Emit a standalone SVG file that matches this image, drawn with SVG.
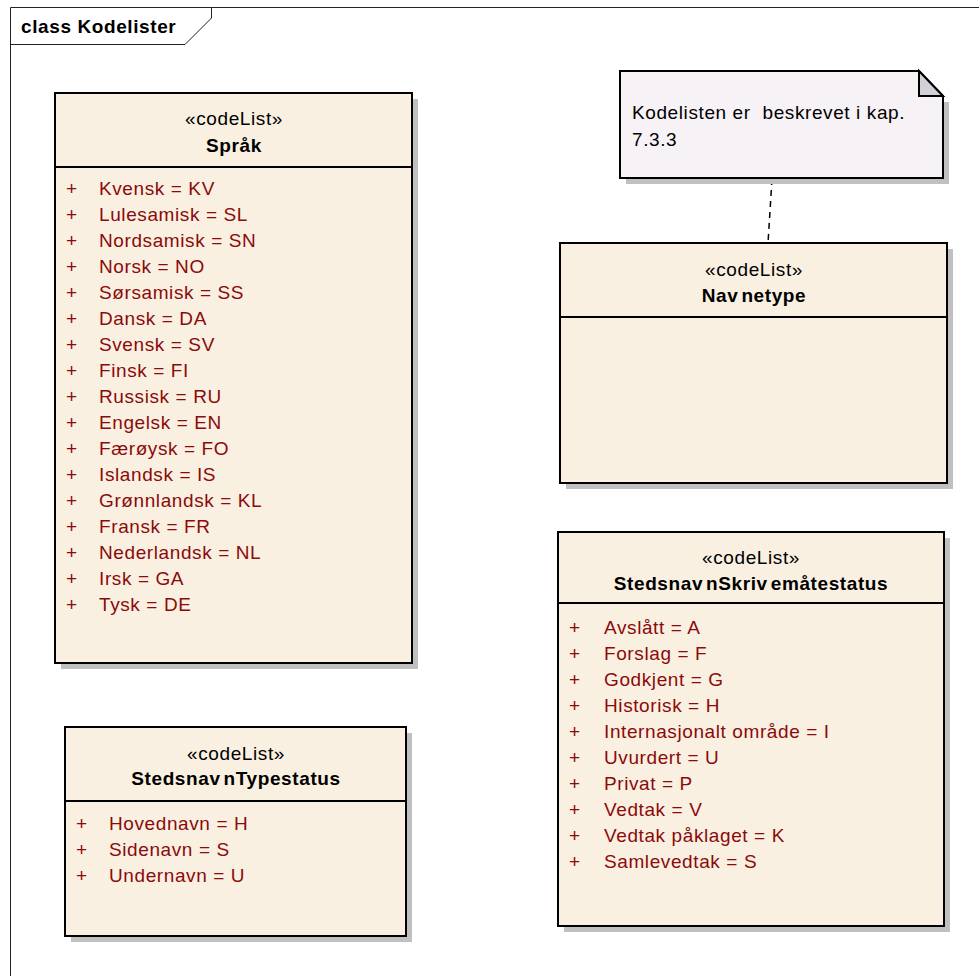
<svg xmlns="http://www.w3.org/2000/svg" width="979" height="976" viewBox="0 0 979 976">
<style>
text{font-family:"Liberation Sans",Arial,sans-serif;font-size:19px;letter-spacing:0.6px}
.title{font-weight:bold}
.st{text-anchor:middle;fill:#000}
.nm{text-anchor:middle;font-weight:bold;fill:#000}
.at{fill:#8b0a0a}
.box{fill:#faf0e2;stroke:#000;stroke-width:2}
.sep{stroke:#000;stroke-width:2}
.sh{fill:#c0c0c0}
.frame{fill:none;stroke:#222;stroke-width:1}
</style>
<rect width="979" height="976" fill="#fff"/>
<g id="frame">
<path class="frame" d="M10.5,976 V7.5 H979"/>
<path class="frame" d="M10.5,44.5 H185 L211.5,18 V7.5"/>
<text class="title" x="21" y="33">class Kodelister</text>
</g>
<g id="connectors">
<line x1="772" y1="179" x2="768" y2="243" stroke="#000" stroke-width="1.5" stroke-dasharray="6,5"/>
</g>
<g id="note">
<path class="sh" d="M626,102 H949 V184 H626 Z"/>
<path d="M620,71 H919 L943,96 V178 H620 Z" fill="#f6f2f6" stroke="#000" stroke-width="2"/>
<path d="M919,71 V96 H943 Z" fill="#d4d0d8" stroke="#000" stroke-width="2" stroke-linejoin="miter"/>
<text x="632" y="119" xml:space="preserve">Kodelisten er  beskrevet i kap.</text>
<text x="632" y="146">7.3.3</text>
</g>
<g id="sprak">
<rect class="sh" x="61" y="99" width="357" height="570"/>
<rect class="box" x="55" y="93" width="357" height="570"/>
<line class="sep" x1="55" y1="167" x2="412" y2="167"/>
<text class="st" x="234" y="125">«codeList»</text>
<text class="nm" x="234" y="152">Språk</text>
<g class="at">
<text x="66" y="195">+</text><text x="99" y="195">Kvensk = KV</text>
<text x="66" y="221">+</text><text x="99" y="221">Lulesamisk = SL</text>
<text x="66" y="247">+</text><text x="99" y="247">Nordsamisk = SN</text>
<text x="66" y="273">+</text><text x="99" y="273">Norsk = NO</text>
<text x="66" y="299">+</text><text x="99" y="299">Sørsamisk = SS</text>
<text x="66" y="325">+</text><text x="99" y="325">Dansk = DA</text>
<text x="66" y="351">+</text><text x="99" y="351">Svensk = SV</text>
<text x="66" y="377">+</text><text x="99" y="377">Finsk = FI</text>
<text x="66" y="403">+</text><text x="99" y="403">Russisk = RU</text>
<text x="66" y="429">+</text><text x="99" y="429">Engelsk = EN</text>
<text x="66" y="455">+</text><text x="99" y="455">Færøysk = FO</text>
<text x="66" y="481">+</text><text x="99" y="481">Islandsk = IS</text>
<text x="66" y="507">+</text><text x="99" y="507">Grønnlandsk = KL</text>
<text x="66" y="533">+</text><text x="99" y="533">Fransk = FR</text>
<text x="66" y="559">+</text><text x="99" y="559">Nederlandsk = NL</text>
<text x="66" y="585">+</text><text x="99" y="585">Irsk = GA</text>
<text x="66" y="611">+</text><text x="99" y="611">Tysk = DE</text>
</g>
</g>
<g id="navnetype">
<rect class="sh" x="566" y="249" width="387" height="240"/>
<rect class="box" x="560" y="243" width="387" height="240"/>
<line class="sep" x1="560" y1="317" x2="947" y2="317"/>
<text class="st" x="754" y="276">«codeList»</text>
<text class="nm" x="754" y="302">Nav<tspan dx="3">netype</tspan></text>
</g>
<g id="skrivematestatus">
<rect class="sh" x="564" y="538" width="386" height="394"/>
<rect class="box" x="558" y="532" width="386" height="394"/>
<line class="sep" x1="558" y1="603" x2="944" y2="603"/>
<text class="st" x="751" y="564">«codeList»</text>
<text class="nm" x="751" y="590">Stedsnav<tspan dx="3">nSkriv</tspan><tspan dx="3">emåtestatus</tspan></text>
<g class="at">
<text x="569" y="634">+</text><text x="604" y="634">Avslått = A</text>
<text x="569" y="660">+</text><text x="604" y="660">Forslag = F</text>
<text x="569" y="686">+</text><text x="604" y="686">Godkjent = G</text>
<text x="569" y="712">+</text><text x="604" y="712">Historisk = H</text>
<text x="569" y="738">+</text><text x="604" y="738">Internasjonalt område = I</text>
<text x="569" y="764">+</text><text x="604" y="764">Uvurdert = U</text>
<text x="569" y="790">+</text><text x="604" y="790">Privat = P</text>
<text x="569" y="816">+</text><text x="604" y="816">Vedtak = V</text>
<text x="569" y="842">+</text><text x="604" y="842">Vedtak påklaget = K</text>
<text x="569" y="868">+</text><text x="604" y="868">Samlevedtak = S</text>
</g>
</g>
<g id="typestatus">
<rect class="sh" x="71" y="733" width="341" height="209"/>
<rect class="box" x="65" y="727" width="341" height="209"/>
<line class="sep" x1="65" y1="801" x2="406" y2="801"/>
<text class="st" x="236" y="760">«codeList»</text>
<text class="nm" x="236" y="785">Stedsnav<tspan dx="3">nTypestatus</tspan></text>
<g class="at">
<text x="76" y="830">+</text><text x="109" y="830">Hovednavn = H</text>
<text x="76" y="856">+</text><text x="109" y="856">Sidenavn = S</text>
<text x="76" y="882">+</text><text x="109" y="882">Undernavn = U</text>
</g>
</g>
</svg>
